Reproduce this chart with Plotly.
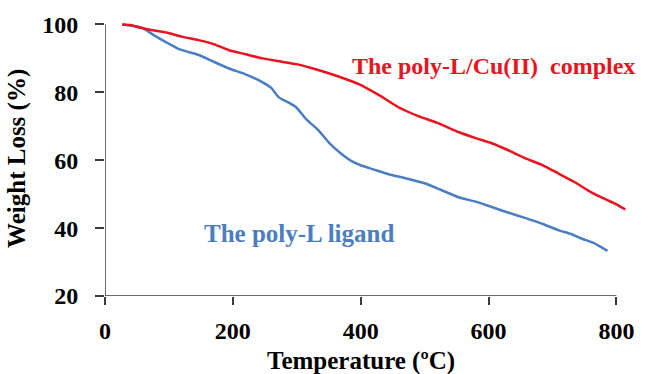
import plotly.graph_objects as go

# Data
ligand_temp = [27, 45, 60, 75, 96, 115, 132, 148, 170, 194, 220, 246, 260, 272, 285, 299, 315, 334,
               351, 370, 385, 400, 420, 445, 470, 500, 525, 553, 580, 605, 630, 657, 685, 709, 730,
               744, 765, 786]
ligand_weight = [100, 99.5, 98.8, 97, 94.7, 92.8, 91.8, 90.9, 89, 87, 85.3, 83, 81.3, 78.5, 77.2, 75.6,
                 72, 68.8, 65, 61.8, 59.8, 58.5, 57.3, 55.8, 54.7, 53.2, 51.3, 49.1, 47.8, 46.2, 44.6,
                 43, 41.2, 39.4, 38.2, 37, 35.6, 33.3]

complex_temp = [27, 40, 54, 75, 96, 120, 148, 170, 194, 220, 246, 270, 299, 320, 350, 375, 397, 430,
                459, 490, 521, 553, 580, 605, 630, 657, 685, 709, 735, 760, 785, 800, 814]
complex_weight = [100, 99.8, 99.1, 98.3, 97.6, 96.4, 95.3, 94.2, 92.4, 91.2, 90, 89.2, 88.3, 87.3,
                  85.6, 84, 82.4, 79, 75.6, 73, 70.9, 68.3, 66.5, 65, 63, 60.6, 58.5, 56.1, 53.5,
                  50.6, 48.3, 47, 45.5]

x_ticks = [0, 200, 400, 600, 800]
y_ticks = [20, 40, 60, 80, 100]

RED = "#e8141f"
BLUE = "#4a7dc2"
FONT = "Liberation Serif, Times New Roman, serif"
AXIS = "#3a3a3a"

fig = go.Figure()
fig.add_trace(go.Scatter(x=ligand_temp, y=ligand_weight, mode="lines",
                         line=dict(color=BLUE, width=2.5, shape="spline", smoothing=0.5),
                         name="The poly-L ligand", showlegend=False))
fig.add_trace(go.Scatter(x=complex_temp, y=complex_weight, mode="lines",
                         line=dict(color=RED, width=2.5, shape="spline", smoothing=0.5),
                         name="The poly-L/Cu(II) complex", showlegend=False))

fig.update_layout(
    width=646, height=374,
    margin=dict(l=105, r=17, t=21, b=78),
    paper_bgcolor="white", plot_bgcolor="white",
    font=dict(family=FONT, color="black"),
    xaxis=dict(range=[0, 815], tickvals=x_ticks, ticktext=["<b>%d</b>" % v for v in x_ticks],
               showgrid=False, zeroline=False, showline=False,
               ticks="outside", ticklen=8, tickwidth=1.5, tickcolor=AXIS,
               tickfont=dict(family=FONT, size=24, color="black"),
               ticklabelstandoff=5),
    yaxis=dict(range=[20, 101], tickvals=y_ticks, ticktext=["<b>%d</b>" % v for v in y_ticks],
               showgrid=False, zeroline=False, showline=False,
               ticks="outside", ticklen=9, tickwidth=1.5, tickcolor=AXIS,
               tickfont=dict(family=FONT, size=24, color="black"),
               ticklabelstandoff=12),
    shapes=[
        dict(type="line", xref="x", yref="y", x0=0, x1=800, y0=20, y1=20,
             line=dict(color=AXIS, width=1.5)),
        dict(type="line", xref="x", yref="y", x0=0, x1=0, y0=20, y1=100,
             line=dict(color=AXIS, width=1.5)),
    ],
    annotations=[
        dict(text="<b>The poly-L/Cu(II)  complex</b>", xref="x", yref="y", x=384, y=87.6,
             xanchor="left", yanchor="middle", showarrow=False,
             font=dict(family=FONT, size=24, color=RED)),
        dict(text="<b>The poly-L ligand</b>", xref="x", yref="y", x=152, y=38.5,
             xanchor="left", yanchor="middle", showarrow=False,
             font=dict(family=FONT, size=25, color=BLUE)),
        dict(text="<b>Temperature (ºC)</b>", xref="paper", yref="paper",
             x=(400 / 815), y=-0.235, xanchor="center", yanchor="middle", showarrow=False,
             font=dict(family=FONT, size=25, color="black")),
        dict(text="<b>Weight Loss (%)</b>", xref="paper", yref="paper",
             x=-0.17, y=0.5, xanchor="center", yanchor="middle", showarrow=False, textangle=-90,
             font=dict(family=FONT, size=25, color="black")),
    ],
)

fig.write_html("out.html")
